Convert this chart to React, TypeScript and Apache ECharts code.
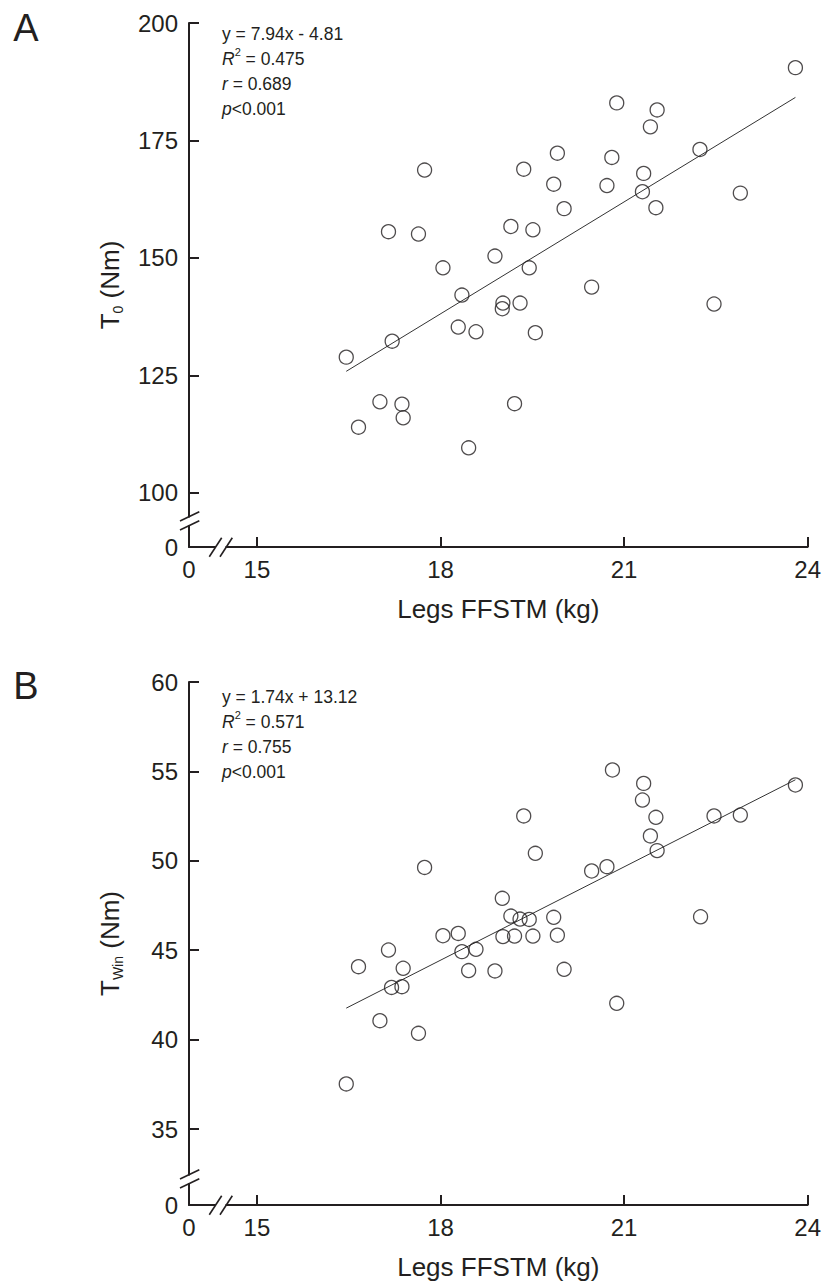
import React, { useEffect, useRef } from "react";
import * as echarts from "echarts";

// ---------- data ----------
const xTicks = [15, 18, 21, 24];
const yTicksA = [100, 125, 150, 175, 200];
const yTicksB = [35, 40, 45, 50, 55, 60];

// axis start values that are shown as "0" (broken axes)
const X_START = 13.89;
const YA_START = 88.5;
const YB_START = 30.75;

// Panel A: Legs FFSTM (kg) vs T0 (Nm)
const pointsA: [number, number][] = [
  [20.88, 183.0], [21.54, 181.5], [21.43, 177.9], [19.91, 172.3], [20.8, 171.4],
  [22.24, 173.1], [17.74, 168.7], [19.36, 168.9], [19.85, 165.7], [20.72, 165.4],
  [21.32, 168.0], [21.3, 164.1], [22.9, 163.8], [21.52, 160.7], [20.02, 160.5],
  [17.15, 155.6], [17.64, 155.1], [19.15, 156.7], [19.51, 156.0], [18.89, 150.4],
  [18.04, 147.9], [19.45, 147.9], [20.47, 143.8], [18.35, 142.1], [19.02, 140.4],
  [19.01, 139.2], [19.3, 140.4], [22.47, 140.2], [18.29, 135.3], [18.58, 134.3],
  [19.55, 134.1], [17.21, 132.3], [16.46, 128.9], [17.01, 119.4], [17.37, 118.9],
  [17.39, 116.0], [16.66, 114.0], [19.21, 119.0], [18.46, 109.6], [23.8, 190.5],
];

// Panel B: Legs FFSTM (kg) vs TWin (Nm)
const pointsB: [number, number][] = [
  [20.81, 55.08], [21.32, 54.33], [21.3, 53.4], [23.8, 54.24], [21.52, 52.43],
  [22.47, 52.51], [22.9, 52.56], [19.36, 52.51], [21.43, 51.39], [21.54, 50.57],
  [19.55, 50.42], [17.74, 49.63], [20.47, 49.43], [20.72, 49.67], [22.25, 46.87],
  [19.01, 47.9], [19.15, 46.91], [19.3, 46.74], [19.45, 46.72], [19.85, 46.84],
  [19.02, 45.76], [19.21, 45.79], [19.51, 45.79], [19.91, 45.84], [18.04, 45.81],
  [18.29, 45.94], [18.35, 44.92], [18.58, 45.05], [17.15, 45.01], [16.66, 44.08],
  [17.39, 43.99], [18.46, 43.86], [18.89, 43.84], [20.02, 43.93], [17.2, 42.92],
  [17.37, 42.96], [20.88, 42.03], [17.01, 41.06], [17.64, 40.35], [16.46, 37.52],
];

const fitA = { slope: 7.94, intercept: -4.81, eq: "y = 7.94x - 4.81", r2: "0.475", r: "0.689", p: "<0.001" };
const fitB = { slope: 1.74, intercept: 13.12, eq: "y = 1.74x + 13.12", r2: "0.571", r: "0.755", p: "<0.001" };

// ---------- layout ----------
const FONT = "'Liberation Sans', Arial, Helvetica, sans-serif";
const INK = "#231f20";
const GRID_LEFT = 189;
const GRID_W = 619;
const GRID_A_TOP = 23;
const GRID_A_H = 524;
const GRID_B_TOP = 682;
const GRID_B_H = 523;

function fitLine(points: [number, number][], f: { slope: number; intercept: number }) {
  const xs = points.map((p) => p[0]);
  const x0 = Math.min(...xs);
  const x1 = Math.max(...xs);
  return [
    [x0, f.slope * x0 + f.intercept],
    [x1, f.slope * x1 + f.intercept],
  ];
}

function breakMarks(ox: number, oy: number) {
  const ls = { stroke: INK, lineWidth: 1.6 };
  return [
    { type: "rect", z: 100, shape: { x: ox + 27, y: oy - 3, width: 9.5, height: 6 }, style: { fill: "#fff" } },
    { type: "line", z: 101, shape: { x1: ox + 20.3, y1: oy + 9.7, x2: ox + 32.7, y2: oy - 9.3 }, style: ls },
    { type: "line", z: 101, shape: { x1: ox + 31, y1: oy + 9.7, x2: ox + 43.3, y2: oy - 9.3 }, style: ls },
    { type: "rect", z: 100, shape: { x: ox - 3, y: oy - 29.5, width: 6, height: 7.5 }, style: { fill: "#fff" } },
    { type: "line", z: 101, shape: { x1: ox - 9, y1: oy - 26, x2: ox + 10.3, y2: oy - 35.3 }, style: ls },
    { type: "line", z: 101, shape: { x1: ox - 9, y1: oy - 17, x2: ox + 10.3, y2: oy - 26.3 }, style: ls },
  ];
}

function statsText(f: typeof fitA, x: number, y: number) {
  const base = { fontFamily: FONT, fontSize: 17.5, lineHeight: 25, fill: INK };
  return {
    type: "text",
    z: 100,
    x,
    y,
    style: {
      text: `{n|${f.eq}}\n{i|R}{sup|2}{n| = ${f.r2}}\n{i|r}{n| = ${f.r}}\n{i|p}{n|${f.p}}`,
      fontFamily: FONT,
      fontSize: 17.5,
      fill: INK,
      verticalAlign: "top",
      align: "left",
      rich: {
        n: { ...base },
        i: { ...base, fontStyle: "italic" },
        sup: { fontFamily: FONT, fontSize: 11, lineHeight: 17, verticalAlign: "top", fill: INK },
      },
    },
  };
}

function xAxisCfg(gridIndex: number) {
  return {
    type: "value",
    gridIndex,
    min: X_START,
    max: 24,
    name: "Legs FFSTM (kg)",
    nameLocation: "middle",
    nameGap: 49,
    nameTextStyle: { fontFamily: FONT, fontSize: 26, color: INK },
    axisLine: { show: true, onZero: false, lineStyle: { color: INK, width: 2 } },
    axisTick: { show: true, inside: true, length: 10, customValues: xTicks, lineStyle: { color: INK, width: 2 } },
    axisLabel: {
      show: true,
      customValues: [X_START, ...xTicks],
      margin: 10,
      fontFamily: FONT,
      fontSize: 24,
      color: INK,
      formatter: (v: number) => (Math.abs(v - X_START) < 1e-6 ? "0" : String(v)),
    },
    splitLine: { show: false },
  };
}

function yAxisCfg(gridIndex: number, start: number, max: number, ticks: number[], nameRich: string) {
  return {
    type: "value",
    gridIndex,
    min: start,
    max,
    name: nameRich,
    nameLocation: "middle",
    nameGap: 64,
    nameRotate: 90,
    nameTextStyle: {
      fontFamily: FONT,
      fontSize: 26,
      color: INK,
      rich: {
        t: { fontFamily: FONT, fontSize: 26, lineHeight: 30, color: INK },
        s: { fontFamily: FONT, fontSize: 14, lineHeight: 14, verticalAlign: "bottom", color: INK },
      },
    },
    axisLine: { show: true, onZero: false, lineStyle: { color: INK, width: 2 } },
    axisTick: { show: true, inside: true, length: 10, customValues: ticks, lineStyle: { color: INK, width: 2 } },
    axisLabel: {
      show: true,
      customValues: [start, ...ticks],
      margin: 11,
      fontFamily: FONT,
      fontSize: 24,
      color: INK,
      formatter: (v: number) => (Math.abs(v - start) < 1e-6 ? "0" : String(v)),
    },
    splitLine: { show: false },
  };
}

export default function App() {
  const ref = useRef<HTMLDivElement>(null);
  useEffect(() => {
    if (!ref.current) return;
    const chart = echarts.init(ref.current, null, { renderer: "svg" });
    const scatterStyle = { color: "rgba(0,0,0,0)", borderColor: INK, borderWidth: 1.3 };
    const lineStyle = { color: "#333", width: 1 };
    chart.setOption({
      animation: false,
      backgroundColor: "#fff",
      grid: [
        { left: GRID_LEFT, top: GRID_A_TOP, width: GRID_W, height: GRID_A_H },
        { left: GRID_LEFT, top: GRID_B_TOP, width: GRID_W, height: GRID_B_H },
      ],
      xAxis: [xAxisCfg(0), xAxisCfg(1)],
      yAxis: [
        yAxisCfg(0, YA_START, 200, yTicksA, "{t|T}{s|0}{t| (Nm)}"),
        yAxisCfg(1, YB_START, 60, yTicksB, "{t|T}{s|Win}{t| (Nm)}"),
      ],
      series: [
        {
          type: "line", xAxisIndex: 0, yAxisIndex: 0, data: fitLine(pointsA, fitA),
          symbol: "none", lineStyle, silent: true, z: 2,
        },
        {
          type: "scatter", xAxisIndex: 0, yAxisIndex: 0, data: pointsA,
          symbol: "circle", symbolSize: 14, itemStyle: scatterStyle, silent: true, z: 3,
        },
        {
          type: "line", xAxisIndex: 1, yAxisIndex: 1, data: fitLine(pointsB, fitB),
          symbol: "none", lineStyle, silent: true, z: 2,
        },
        {
          type: "scatter", xAxisIndex: 1, yAxisIndex: 1, data: pointsB,
          symbol: "circle", symbolSize: 14, itemStyle: scatterStyle, silent: true, z: 3,
        },
      ],
      graphic: [
        ...breakMarks(GRID_LEFT, GRID_A_TOP + GRID_A_H),
        ...breakMarks(GRID_LEFT, GRID_B_TOP + GRID_B_H),
        statsText(fitA, 222, 21),
        statsText(fitB, 222, 684.5),
        {
          type: "text", z: 100, x: 26, y: 28,
          style: { text: "A", fontFamily: FONT, fontSize: 38, fill: INK, align: "center", verticalAlign: "middle" },
        },
        {
          type: "text", z: 100, x: 26, y: 686,
          style: { text: "B", fontFamily: FONT, fontSize: 38, fill: INK, align: "center", verticalAlign: "middle" },
        },
      ],
    });
    return () => chart.dispose();
  }, []);
  return (
    <div
      ref={ref}
      style={{ position: "absolute", left: 0, top: 0, width: 824, height: 1283, background: "#fff" }}
    />
  );
}
